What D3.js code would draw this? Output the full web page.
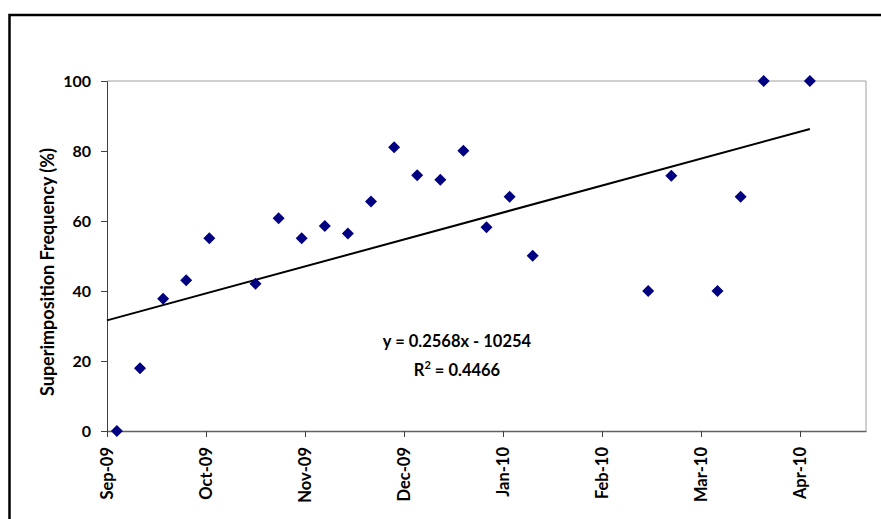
<!DOCTYPE html>
<html>
<head>
<meta charset="utf-8">
<script src="https://cdn.jsdelivr.net/npm/d3@7"></script>
<style>
  html, body { margin: 0; padding: 0; background: #fff; }
  svg { display: block; }
  text { font-family: Lato, "Liberation Sans", sans-serif; font-weight: bold; fill: #000; }
</style>
</head>
<body>
<svg id="chart" width="881" height="519"></svg>
<script>
// Sampling dates as spreadsheet day serials (weekly observations)
const dayNumbers = [40056, 40063, 40070, 40077, 40084, 40098, 40105, 40112, 40119, 40126,
                    40133, 40140, 40147, 40154, 40161, 40168, 40175, 40182, 40217, 40224,
                    40238, 40245, 40252, 40266];
// Superimposition frequency (%) per observation
const frequency = [0, 17.9, 37.8, 43.1, 55.1, 42.1, 60.8, 55.1, 58.6, 56.4,
                   65.6, 81.1, 73.1, 71.8, 80.1, 58.2, 66.9, 50.1, 40, 72.9,
                   40, 66.9, 100, 100];

// Axis ticks
const xTickValues = [40053, 40083, 40113, 40143, 40173, 40203, 40233, 40263];
const xTickLabels = ["Sep-09", "Oct-09", "Nov-09", "Dec-09", "Jan-10", "Feb-10", "Mar-10", "Apr-10"];
const yTickValues = [0, 20, 40, 60, 80, 100];

// Linear trend: y = 0.2568x - 10254, R² = 0.4466
const trendSlope = 0.2568;
const trendIntercept = -10254;
const trendR2 = 0.4466;

const svg = d3.select("#chart");
const plot = { left: 107, right: 866, top: 81, bottom: 431 };

const x = d3.scaleLinear().domain([40053, 40283]).range([plot.left, plot.right]);
const y = d3.scaleLinear().domain([0, 100]).range([plot.bottom, plot.top]);

// Outer frame
svg.append("rect")
  .attr("x", 9.5).attr("y", 15).attr("width", 900).attr("height", 540)
  .attr("fill", "none").attr("stroke", "#000").attr("stroke-width", 2.5);

// Plot-area border (top and right)
svg.append("path")
  .attr("d", `M${plot.left},${plot.top}H${plot.right}V${plot.bottom}`)
  .attr("fill", "none").attr("stroke", "#a0a0a0").attr("stroke-width", 1);

// Y axis
const yAxis = svg.append("g")
  .attr("transform", `translate(${plot.left},0)`)
  .call(d3.axisLeft(y).tickValues(yTickValues).tickSize(6).tickPadding(10));
yAxis.select(".domain").attr("stroke", "#404040");
yAxis.selectAll(".tick line").attr("stroke", "#404040");
yAxis.selectAll(".tick text")
  .attr("font-size", 16).attr("font-family", null).attr("fill", "#000");

// X axis
const xAxis = svg.append("g")
  .attr("transform", `translate(0,${plot.bottom})`)
  .call(d3.axisBottom(x).tickValues(xTickValues)
    .tickFormat((d, i) => xTickLabels[i]).tickSize(6).tickSizeOuter(0));
xAxis.select(".domain").attr("stroke", "#606060").attr("stroke-width", 1.5);
xAxis.selectAll(".tick line").attr("stroke", "#404040");
xAxis.selectAll(".tick text")
  .attr("font-size", 16.5).attr("font-family", null).attr("fill", "#000")
  .attr("text-anchor", "end")
  .attr("transform", "rotate(-90)")
  .attr("x", -16).attr("y", 0).attr("dy", "0.36em");

// Y axis title
svg.append("text")
  .attr("transform", "translate(54,272) rotate(-90)")
  .attr("text-anchor", "middle")
  .attr("font-size", 18)
  .text("Superimposition Frequency (%)");

// Trend line spanning the axis start to the last observation
const trendX = [x.domain()[0], d3.max(dayNumbers)];
svg.append("line")
  .attr("x1", x(trendX[0])).attr("y1", y(trendSlope * trendX[0] + trendIntercept))
  .attr("x2", x(trendX[1])).attr("y2", y(trendSlope * trendX[1] + trendIntercept))
  .attr("stroke", "#000").attr("stroke-width", 2);

// Diamond markers
const diamond = "M0,-6L6,0L0,6L-6,0Z";
svg.append("g").selectAll("path")
  .data(dayNumbers.map((d, i) => [d, frequency[i]]))
  .join("path")
  .attr("d", diamond)
  .attr("transform", d => `translate(${x(d[0])},${y(d[1])})`)
  .attr("fill", "#000080");

// Trend equation label
const eq = svg.append("g").attr("font-size", 16.5);
eq.append("text")
  .attr("x", 457).attr("y", 347).attr("text-anchor", "middle")
  .text(`y = ${trendSlope}x - ${Math.abs(trendIntercept)}`);
const r2 = eq.append("text")
  .attr("x", 457).attr("y", 376).attr("text-anchor", "middle");
r2.append("tspan").text("R");
r2.append("tspan").attr("font-size", 11).attr("dy", -7).text("2");
r2.append("tspan").attr("dy", 7).text(` = ${trendR2}`);
</script>
</body>
</html>
